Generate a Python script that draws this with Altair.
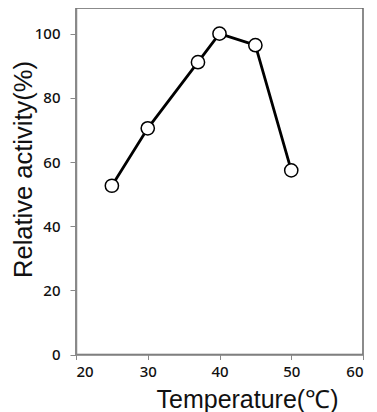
import altair as alt
import pandas as pd

temperature = [25, 30, 37, 40, 45, 50]
activity = [52.6, 70.5, 91.1, 100.0, 96.4, 57.4]

df = pd.DataFrame({"t": temperature, "a": activity})

x_ticks = [20, 30, 40, 50, 60]
y_ticks = [0, 20, 40, 60, 80, 100]

label_font = "Noto Sans"
title_font = "Liberation Sans"

x = alt.X("t:Q", scale=alt.Scale(domain=[20, 60], nice=False, zero=False),
          axis=alt.Axis(values=x_ticks, title="Temperature(℃)", grid=False,
                        tickSize=5, labelPadding=5, labelFontSize=15,
                        labelFont=label_font, labelColor="#111", labelFontWeight=500,
                        domainColor="#888", tickColor="#888", domainWidth=1.5,
                        titleFont=title_font, titleFontSize=25, titleFontWeight="normal",
                        titleColor="#111", titleX=171, titleY=45, titleAlign="center",
                        titleBaseline="middle", titleAnchor="start"))
y = alt.Y("a:Q", scale=alt.Scale(domain=[0, 108], nice=False),
          axis=alt.Axis(values=y_ticks, title="Relative activity(%)", grid=False,
                        tickSize=6, labelPadding=10, labelFontSize=15,
                        labelFont=label_font, labelColor="#111", labelFontWeight=500,
                        domainColor="#888", tickColor="#888", domainWidth=1.5,
                        titleFont=title_font, titleFontSize=25.5, titleFontWeight="normal",
                        titleColor="#111", titleX=-53, titleY=161, titleAngle=-90,
                        titleAlign="center", titleBaseline="middle", titleAnchor="start"))

line = alt.Chart(df).mark_line(color="black", strokeWidth=2.8).encode(x=x, y=y)
pts = alt.Chart(df).mark_point(shape="circle", filled=True, fill="white",
                               stroke="black", strokeWidth=1.5, size=175,
                               opacity=1).encode(x=x, y=y)

chart = (line + pts).properties(
    width=287, height=346.5,
    autosize=alt.AutoSizeParams(type="none"),
    padding={"left": 68, "top": 0, "right": 6, "bottom": 60},
).configure_view(stroke="#666", strokeWidth=1.5)

chart.save("out.html", embed_options={"renderer": "svg", "actions": False})
